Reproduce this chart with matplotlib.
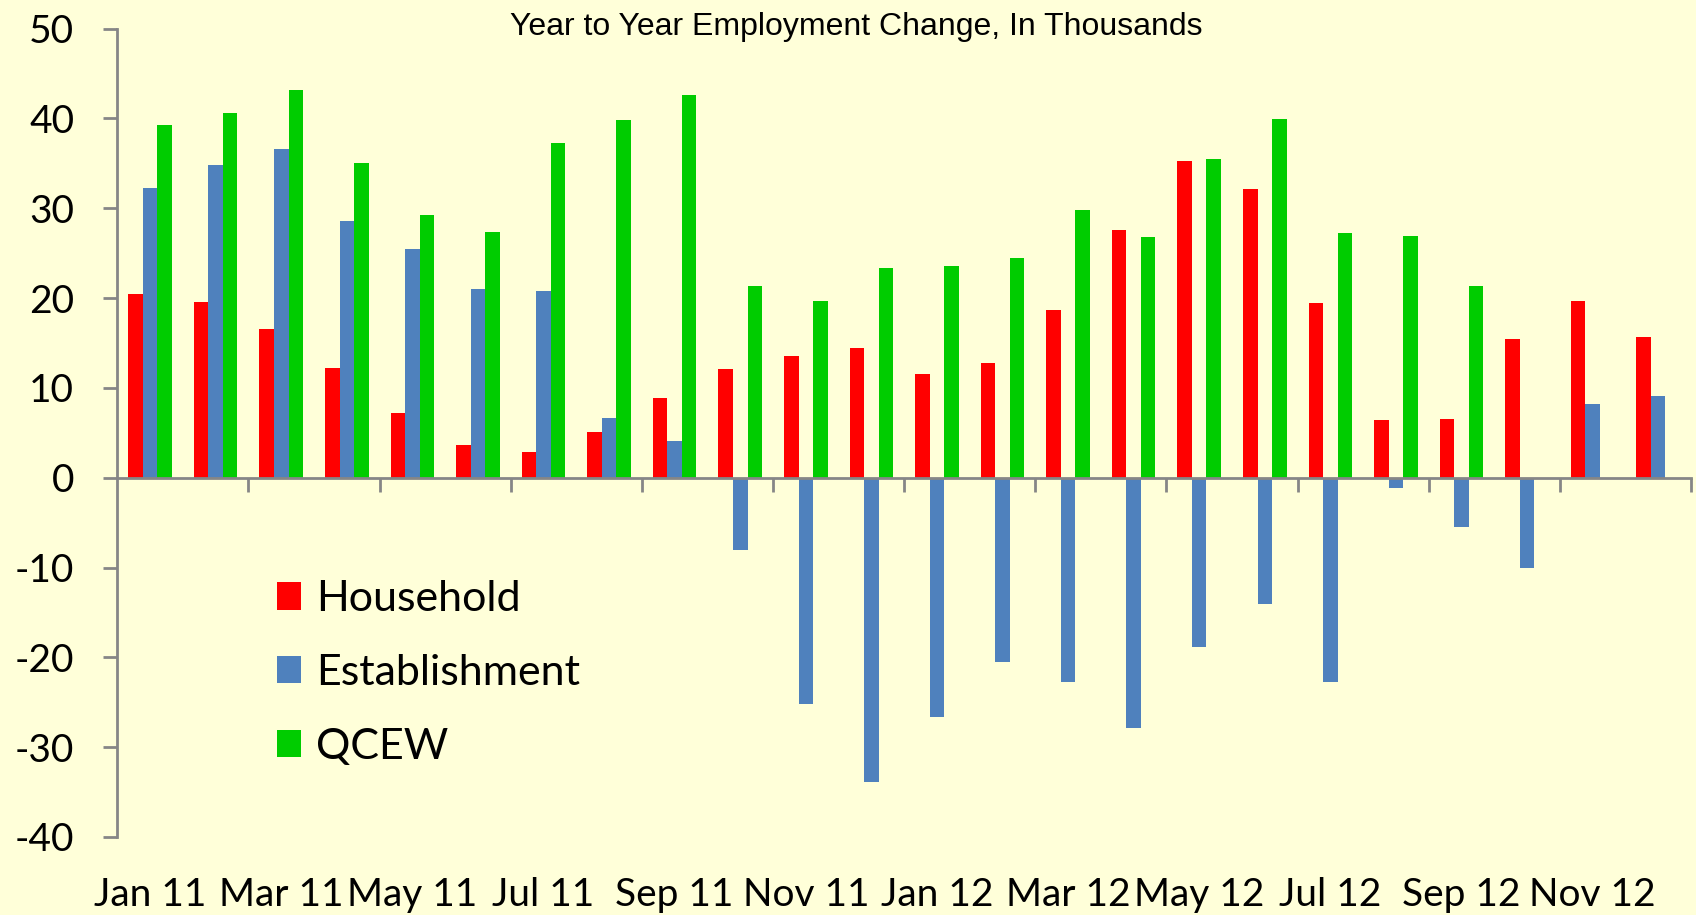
import matplotlib
matplotlib.use("Agg")
import matplotlib.pyplot as plt
import matplotlib.transforms as mtransforms
import numpy as np

months = ["Jan 11", "Feb 11", "Mar 11", "Apr 11", "May 11", "Jun 11",
          "Jul 11", "Aug 11", "Sep 11", "Oct 11", "Nov 11", "Dec 11",
          "Jan 12", "Feb 12", "Mar 12", "Apr 12", "May 12", "Jun 12",
          "Jul 12", "Aug 12", "Sep 12", "Oct 12", "Nov 12", "Dec 12"]

household = [20.5, 19.6, 16.6, 12.2, 7.2, 3.6, 2.9, 5.1, 8.9, 12.1, 13.6, 14.4,
             11.5, 12.8, 18.7, 27.6, 35.3, 32.1, 19.4, 6.4, 6.5, 15.4, 19.7, 15.7]
establishment = [32.3, 34.8, 36.6, 28.6, 25.5, 21.0, 20.8, 6.7, 4.1, -8.1, -25.2, -33.9,
                 -26.7, -20.5, -22.7, -27.9, -18.8, -14.1, -22.7, -1.2, -5.5, -10.1, 8.2, 9.1]
qcew = [39.3, 40.6, 43.2, 35.0, 29.3, 27.4, 37.3, 39.8, 42.6, 21.3, 19.7, 23.3,
        23.6, 24.5, 29.8, 26.8, 35.5, 39.9, 27.3, 26.9, 21.3, np.nan, np.nan, np.nan]

series_names = ["Household", "Establishment", "QCEW"]
title = "Year to Year Employment Change, In Thousands"
yticks = [-40, -30, -20, -10, 0, 10, 20, 30, 40, 50]

BG = "#FFFFD9"
COLORS = ["#FF0000", "#4F81BD", "#00CC00"]
AXC = "#868686"
FONT = "Lato"

fig = plt.figure(figsize=(16.96, 9.15), dpi=100, facecolor=BG)
ax = fig.add_axes([117.3 / 1696, 1 - 836.9 / 915, (1691 - 117.3) / 1696, (836.9 - 28.7) / 915])
ax.set_facecolor(BG)

x = np.arange(len(months))
w = 0.222
for i, (vals, name, c) in enumerate(zip([household, establishment, qcew], series_names, COLORS)):
    ax.bar(x + (i - 1) * w, vals, width=w, color=c, label=name, linewidth=0)

ax.set_xlim(-0.5, len(months) - 0.5)
ax.set_ylim(-40, 50)

for s in ["top", "right"]:
    ax.spines[s].set_visible(False)
ax.spines["bottom"].set_position(("data", 0))
ax.spines["bottom"].set_color(AXC)
ax.spines["left"].set_color(AXC)
ax.spines["bottom"].set_linewidth(2)
ax.spines["left"].set_linewidth(2)
ax.spines["bottom"].set_zorder(5)

ax.set_yticks(yticks)
ax.set_yticklabels([str(v) for v in yticks], fontsize=28, fontfamily=FONT)
ax.tick_params(axis="y", direction="out", length=10, width=2, color=AXC, pad=21)

ax.set_xticks(np.arange(1.5, len(months), 2))
ax.set_xticklabels([])
ax.tick_params(axis="x", direction="out", length=10, width=2, color=AXC)

trans = mtransforms.blended_transform_factory(ax.transData, fig.transFigure)
for i in range(0, len(months), 2):
    ax.text(x[i], 9 / 915, months[i], transform=trans, ha="center", va="baseline",
            fontsize=28, fontfamily=FONT, clip_on=False)

fig.text(856.6 / 1696, 1 - 35 / 915, title, ha="center", va="baseline",
         fontsize=23, fontfamily="Liberation Sans")

leg = ax.legend(loc="center left", bbox_to_anchor=(277 / 1696, 1 - 673 / 915),
                bbox_transform=fig.transFigure, frameon=False, borderpad=0,
                borderaxespad=0, handlelength=0.55, handleheight=0.6,
                handletextpad=0.35, labelspacing=0.83,
                prop={"family": FONT, "size": 31})

fig.savefig("out.png", dpi=100, facecolor=BG)
